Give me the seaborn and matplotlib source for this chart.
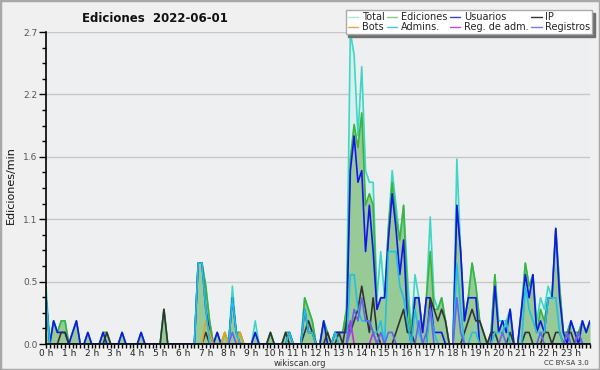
import numpy as np
import pandas as pd
import matplotlib
matplotlib.use("Agg")
import matplotlib.pyplot as plt
import matplotlib.ticker as mticker
from matplotlib.lines import Line2D
from matplotlib.patches import Rectangle
import seaborn as sns

# valores por intervalo de 10 min (ediciones/min), 12 valores = 2 horas por fila
total = [
    .5, 0, .2, .1, .2, .2, 0, .1, .2, 0, 0, .1,
    0, 0, 0, .1, .1, 0, 0, 0, .1, 0, 0, 0,
    0, .1, 0, 0, 0, 0, 0, .3, 0, 0, 0, 0,
    0, 0, 0, 0, .7, .7, .5, .2, 0, .1, 0, .1,
    0, .5, .1, .1, 0, 0, 0, .2, 0, 0, 0, .1,
    0, 0, 0, .1, .1, 0, 0, 0, .4, .3, .2, 0,
    0, .2, .1, 0, .1, .1, .1, .3, 2.7, 2.5, 1.8, 2.4,
    1.5, 1.4, 1.4, .4, .8, .4, 1.0, 1.5, 1.2, .9, 1.2, .6,
    .1, .6, .4, .1, .4, 1.1, .4, .3, .4, .2, 0, 0,
    1.6, .8, .2, .4, .7, .5, .2, .1, 0, .1, .6, .2,
    .2, .2, .3, 0, 0, .3, .7, .5, .6, .2, .4, .3,
    .5, .4, 1.0, .5, .1, .1, .2, .1, .1, .2, .1, .2,
]
ediciones = [
    .4, 0, .2, .1, .2, .2, 0, .1, .2, 0, 0, .1,
    0, 0, 0, .1, .1, 0, 0, 0, .1, 0, 0, 0,
    0, .1, 0, 0, 0, 0, 0, .3, 0, 0, 0, 0,
    0, 0, 0, 0, .7, .7, .5, .2, 0, .1, 0, .1,
    0, .4, .1, .1, 0, 0, 0, .1, 0, 0, 0, .1,
    0, 0, 0, .1, .1, 0, 0, 0, .4, .3, .2, 0,
    0, .2, .1, 0, .1, .1, .1, .3, 1.6, 1.9, 1.7, 2.0,
    1.2, 1.3, 1.2, .3, .4, .4, 1.0, 1.4, 1.1, .9, 1.2, .4,
    .1, .4, .4, .1, .4, .8, .3, .3, .4, .2, 0, 0,
    1.2, .8, .2, .4, .7, .5, .2, .1, 0, .1, .6, .1,
    .2, .1, .3, 0, 0, .3, .7, .5, .6, .1, .3, .2,
    .4, .4, 1.0, .5, .1, .1, .2, .1, .1, .2, .1, .2,
]
usuarios = [
    .4, 0, .2, .1, .1, .1, 0, .1, .2, 0, 0, .1,
    0, 0, 0, .1, 0, 0, 0, 0, .1, 0, 0, 0,
    0, .1, 0, 0, 0, 0, 0, 0, 0, 0, 0, 0,
    0, 0, 0, 0, .7, .7, .3, .1, 0, .1, 0, 0,
    0, .4, .1, 0, 0, 0, 0, .1, 0, 0, 0, 0,
    0, 0, 0, 0, .1, 0, 0, 0, .3, .1, .1, 0,
    0, .2, 0, 0, .1, .1, .1, .1, 1.5, 1.8, 1.4, 1.5,
    .8, 1.2, .8, .3, .4, .4, .9, 1.3, 1.0, .6, .9, .2,
    0, .4, .4, .1, .4, .4, .1, .1, .1, 0, 0, 0,
    1.2, .8, .2, .4, .4, .4, 0, 0, 0, 0, .5, .1,
    .2, .1, .3, 0, 0, .3, .6, .4, .6, .1, .2, .1,
    .4, .4, 1.0, .4, .1, 0, .2, .1, 0, .2, .1, .2,
]
ip = [
    0, 0, 0, 0, .1, .1, 0, 0, 0, 0, 0, 0,
    0, 0, 0, 0, .1, 0, 0, 0, 0, 0, 0, 0,
    0, 0, 0, 0, 0, 0, 0, .3, 0, 0, 0, 0,
    0, 0, 0, 0, 0, 0, .1, 0, 0, 0, 0, 0,
    0, 0, 0, 0, 0, 0, 0, 0, 0, 0, 0, .1,
    0, 0, 0, .1, 0, 0, 0, 0, .1, .2, .1, 0,
    0, 0, .1, 0, 0, .1, 0, .2, .1, .2, .3, .5,
    .3, .1, .4, .1, 0, 0, 0, 0, .1, .2, .3, .1,
    .1, 0, 0, 0, 0, .4, .3, .2, .3, .2, 0, 0,
    0, 0, .1, .2, .3, .2, .2, .1, 0, .1, .1, 0,
    0, 0, .1, 0, 0, 0, .1, .1, 0, 0, 0, .1,
    .1, 0, .1, .1, 0, .1, .1, 0, .1, 0, 0, 0,
]
bots = [0] * 144
bots[42] = .2
bots[43] = .1
bots[47] = .1
bots[51] = .1
admins = [
    .4, 0, 0, 0, 0, 0, 0, 0, 0, 0, 0, 0,
    0, 0, 0, 0, 0, 0, 0, 0, 0, 0, 0, 0,
    0, 0, 0, 0, 0, 0, 0, 0, 0, 0, 0, 0,
    0, 0, 0, 0, .7, .7, .3, 0, 0, 0, 0, 0,
    0, .4, .1, 0, 0, 0, 0, 0, 0, 0, 0, 0,
    0, 0, 0, 0, .1, 0, 0, 0, .3, .1, .1, 0,
    0, 0, 0, 0, .1, 0, 0, 0, .6, .6, .3, .2,
    .2, .2, .1, .1, .2, 0, .8, .8, .8, .5, .4, .2,
    0, .3, .1, 0, 0, .3, .1, 0, 0, 0, 0, 0,
    .7, .3, 0, 0, .1, .1, 0, 0, 0, 0, .1, .1,
    .1, .2, 0, 0, 0, 0, .5, .3, .2, .1, .1, .1,
    .4, .4, .4, .1, 0, 0, 0, 0, 0, 0, 0, 0,
]
reg_adm = [0] * 144
reg_adm[80] = .2
reg_adm[86] = .1
registros = [
    0, 0, 0, 0, 0, 0, 0, 0, 0, 0, 0, 0,
    0, 0, 0, 0, 0, 0, 0, 0, 0, 0, 0, 0,
    0, 0, 0, 0, 0, 0, 0, 0, 0, 0, 0, 0,
    0, 0, 0, 0, 0, 0, 0, 0, 0, 0, 0, 0,
    0, .1, 0, 0, 0, 0, 0, 0, 0, 0, 0, 0,
    0, 0, 0, 0, 0, 0, 0, 0, 0, 0, 0, 0,
    0, 0, 0, 0, 0, 0, 0, 0, .1, .3, .2, .4,
    .2, .2, .1, 0, .1, 0, .1, .1, 0, 0, 0, 0,
    0, 0, .2, 0, .1, .3, 0, 0, 0, 0, 0, 0,
    .4, .1, 0, 0, 0, 0, 0, 0, 0, 0, 0, 0,
    .1, 0, 0, 0, 0, 0, 0, 0, 0, 0, .1, 0,
    0, 0, 0, 0, 0, .1, 0, 0, .1, 0, 0, 0,
]

nombres = ['Total', 'Ediciones', 'Usuarios', 'IP', 'Bots', 'Admins.', 'Reg. de adm.', 'Registros']
series = [total, ediciones, usuarios, ip, bots, admins, reg_adm, registros]
colores = ['#3fd6c6', '#3cb43c', '#1414ee', '#333333', '#f0a020', '#22c0e0', '#c030d0', '#6464f0']
colores_leyenda = ['#a8e6de', '#88cc88', '#3c3cd8', '#333333', '#f5a040', '#40c8e0', '#d040e0', '#7878e8']

horas = np.arange(len(total)) / 6.0
df = pd.DataFrame({'h': horas})
for n, s in zip(nombres, series):
    df[n] = s
largo = df.melt(id_vars='h', var_name='serie', value_name='v')

sns.set_style('white')
plt.rcParams['font.family'] = ['DejaVu Sans']

fig = plt.figure(figsize=(6, 3.7), dpi=100, facecolor='#f0f0f0')
fig.patches.append(Rectangle((0, 0), 1, 1, transform=fig.transFigure, fill=False,
                             edgecolor='#a8a8a8', lw=2.5))
ax = fig.add_axes([46 / 600, 26 / 370, 544 / 600, 312 / 370])
ax.set_facecolor('#eeeff1')

ax.fill_between(horas, total, color='#d6f1ed', lw=0, zorder=1)
ax.fill_between(horas, ediciones, color='#98ca98', lw=0, zorder=1.5)
sns.lineplot(data=largo, x='h', y='v', hue='serie', hue_order=nombres,
             palette=dict(zip(nombres, colores)), estimator=None,
             lw=1.2, legend=False, ax=ax, zorder=2)

ymax = max(total)
ax.set_xlim(0, horas[-1])
ax.set_ylim(0, ymax)
ax.yaxis.set_major_locator(mticker.MultipleLocator(ymax / 5))
ax.yaxis.set_minor_locator(mticker.MultipleLocator(ymax / 20))
ax.yaxis.set_major_formatter(mticker.FormatStrFormatter('%.1f'))
ax.set_xticks(range(24))
ax.set_xticklabels([f'{h} h' for h in range(24)])
ax.xaxis.set_minor_locator(mticker.MultipleLocator(1 / 6))
ax.tick_params(axis='y', which='major', length=5, width=1, color='black',
               labelsize=6.5, labelcolor='#555555', pad=1, direction='out', left=True)
ax.tick_params(axis='y', which='minor', length=3, width=1, color='black', left=True)
ax.tick_params(axis='x', which='both', length=3, width=1, color='black',
               labelsize=6.5, labelcolor='#222222', pad=0.5, direction='out', bottom=True)
ax.set_axisbelow(True)
ax.grid(axis='y', which='major', color='#c8c8c8', lw=1)
ax.grid(axis='x', visible=False)
for lado in ['top', 'right']:
    ax.spines[lado].set_visible(False)
for lado in ['left', 'bottom']:
    ax.spines[lado].set_color('black')
    ax.spines[lado].set_linewidth(1.2)
ax.set_xlabel('')
ax.set_ylabel('')

fig.text(155 / 600, 1 - 18 / 370, 'Ediciones  2022-06-01', ha='center', va='center',
         fontsize=8.5, fontweight='bold', color='#111111')
fig.text(11 / 600, 1 - 185 / 370, 'Ediciones/min', rotation=90, ha='center', va='center',
         fontsize=8, color='#111111')
fig.text(300 / 600, 1 - 363 / 370, 'wikiscan.org', ha='center', va='center',
         fontsize=6, color='#333333')
fig.text(589 / 600, 1 - 363 / 370, 'CC BY-SA 3.0', ha='right', va='center',
         fontsize=5, color='#333333')

# leyenda en 2 filas x 4 columnas (matplotlib llena por columnas)
orden = [0, 4, 1, 5, 2, 6, 3, 7]
handles = [Line2D([], [], color=colores_leyenda[k], lw=1) for k in orden]
etiquetas = [nombres[k] for k in orden]
leg = ax.legend(handles, etiquetas, ncol=4, loc='upper right',
                bbox_to_anchor=(592 / 600, 1 - 10 / 370), bbox_transform=fig.transFigure,
                fontsize=7, frameon=True, fancybox=False, borderaxespad=0,
                handlelength=1.1, handletextpad=0.35, columnspacing=0.25,
                labelspacing=0.0, borderpad=0.2,
                shadow={'color': '#707070', 'alpha': 1.0})
leg.get_frame().set_facecolor('white')
leg.get_frame().set_edgecolor('#aaaaaa')
leg.get_frame().set_linewidth(1)
leg.get_frame().set_alpha(1)
leg.set_zorder(10)

fig.savefig('out.png', dpi=100, facecolor=fig.get_facecolor())
